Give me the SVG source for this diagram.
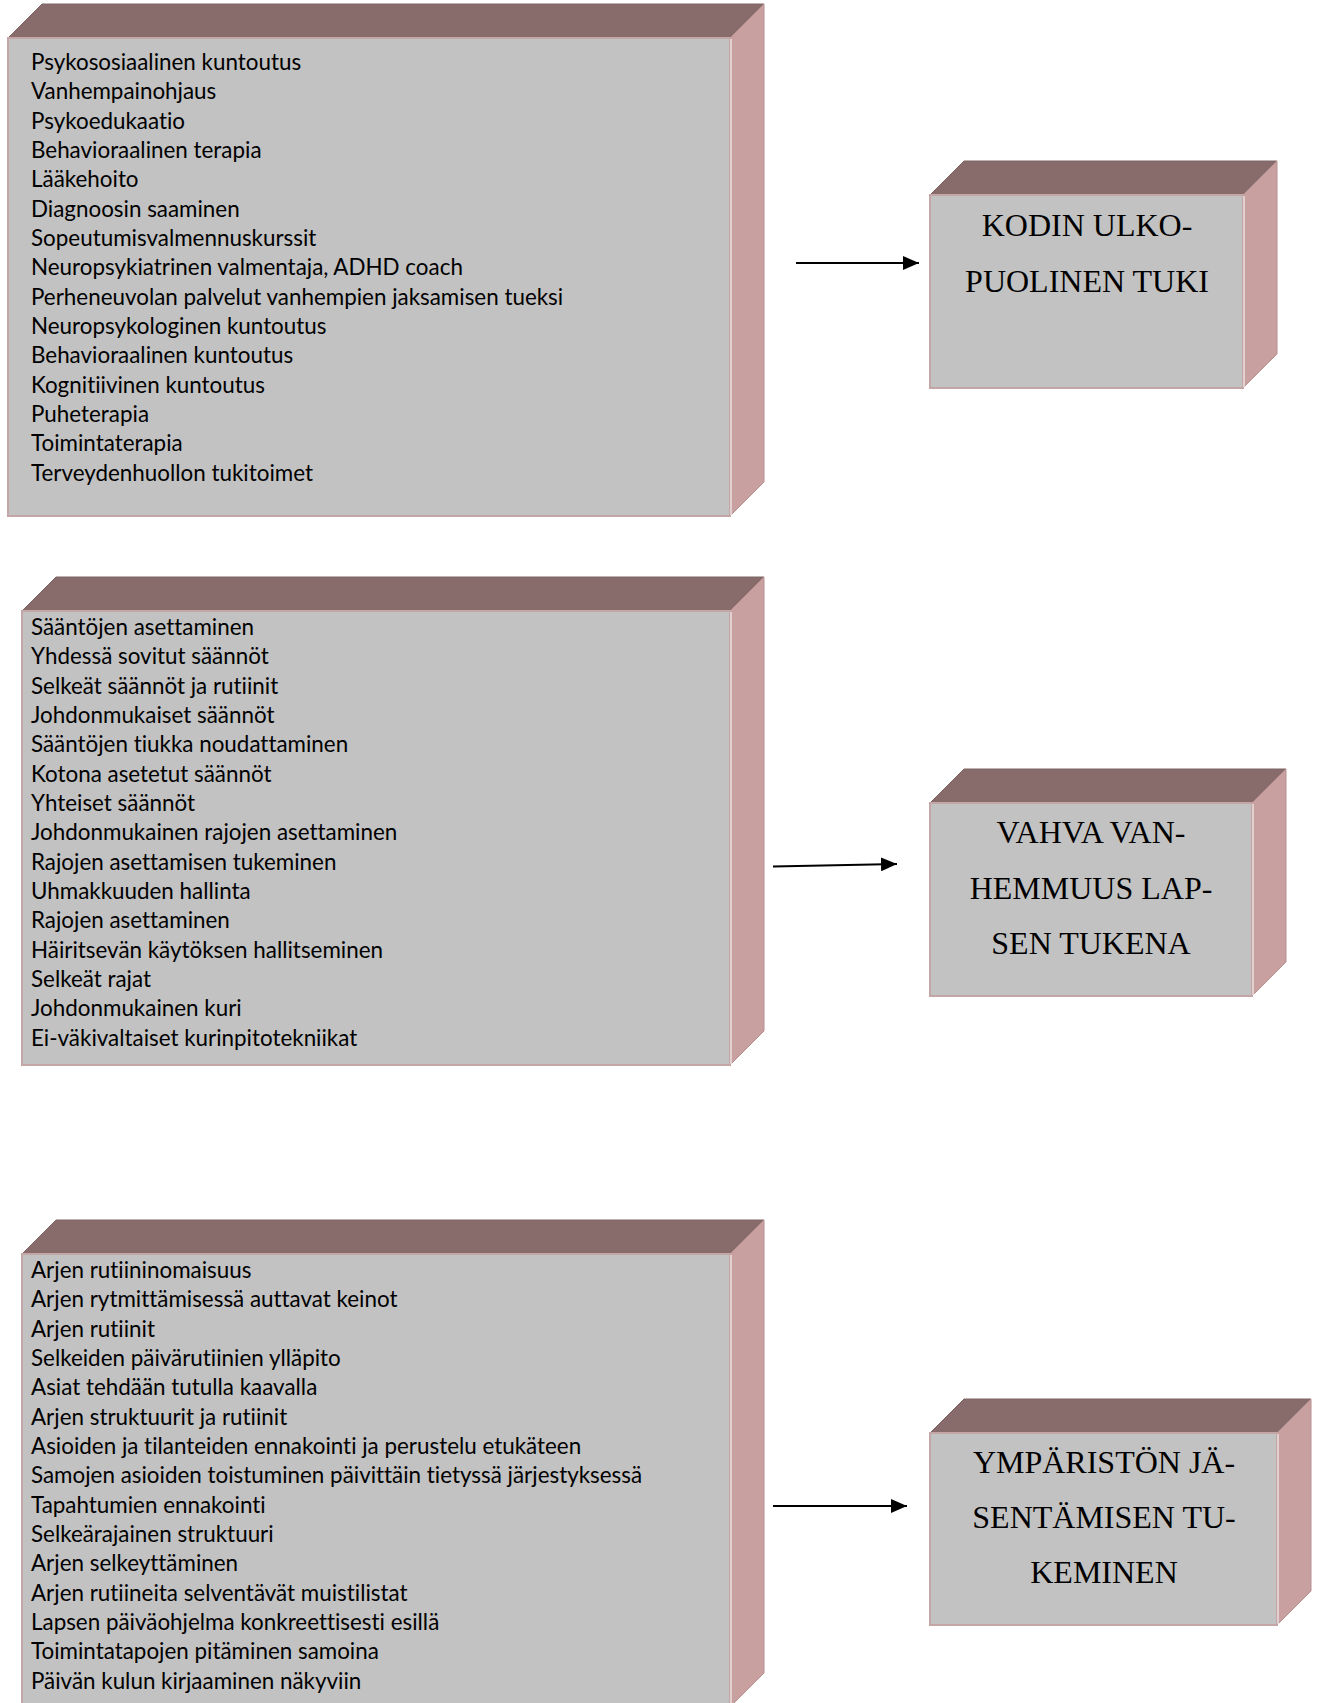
<svg xmlns="http://www.w3.org/2000/svg" width="1323" height="1703" viewBox="0 0 1323 1703">
<defs>
<style>
.top{fill:#886C6C;stroke:#7E6464;stroke-width:1}
.side{fill:#C8A0A0;stroke:#B89090;stroke-width:1}
.front{fill:#C2C2C2;stroke:#C4A6A6;stroke-width:2}
.hl{stroke:#E2CFCF;stroke-width:2;fill:none}
.list{font-family:Lato,"Liberation Sans",sans-serif;font-size:22.4px;fill:#000;font-variant-ligatures:none}
.title{font-family:"Liberation Serif","Times New Roman",serif;font-size:32px;fill:#000;text-anchor:middle}
.conn{stroke:#000;stroke-width:2;fill:none}
</style>
<marker id="ah" viewBox="0 0 16 14" refX="16" refY="7" markerWidth="16" markerHeight="14" markerUnits="userSpaceOnUse" orient="auto">
<path d="M0,0 L16,7 L0,14 z" fill="#000"/>
</marker>
</defs>
<rect x="0" y="0" width="1323" height="1703" fill="#fff"/>

<g id="box-terveydenhuolto">
<polygon class="top" points="8,38 42,4 764,4 730,38"/>
<polygon class="side" points="730,38 764,4 764,482 730,516"/>
<rect class="front" x="8" y="38" width="722" height="478"/>
<line class="hl" x1="731" y1="39" x2="731" y2="515"/>
<text class="list">
<tspan x="31" y="70">Psykososiaalinen kuntoutus</tspan>
<tspan x="31" y="99.3">Vanhempainohjaus</tspan>
<tspan x="31" y="128.7">Psykoedukaatio</tspan>
<tspan x="31" y="158">Behavioraalinen terapia</tspan>
<tspan x="31" y="187.3">Lääkehoito</tspan>
<tspan x="31" y="216.7">Diagnoosin saaminen</tspan>
<tspan x="31" y="246">Sopeutumisvalmennuskurssit</tspan>
<tspan x="31" y="275.3">Neuropsykiatrinen valmentaja, ADHD coach</tspan>
<tspan x="31" y="304.6">Perheneuvolan palvelut vanhempien jaksamisen tueksi</tspan>
<tspan x="31" y="334">Neuropsykologinen kuntoutus</tspan>
<tspan x="31" y="363.3">Behavioraalinen kuntoutus</tspan>
<tspan x="31" y="392.6">Kognitiivinen kuntoutus</tspan>
<tspan x="31" y="422">Puheterapia</tspan>
<tspan x="31" y="451.3">Toimintaterapia</tspan>
<tspan x="31" y="480.6">Terveydenhuollon tukitoimet</tspan>
</text>
</g>

<g id="box-saannot">
<polygon class="top" points="22,611 56,577 764,577 730,611"/>
<polygon class="side" points="730,611 764,577 764,1031 730,1065"/>
<rect class="front" x="22" y="611" width="708" height="454"/>
<line class="hl" x1="731" y1="612" x2="731" y2="1064"/>
<text class="list">
<tspan x="31" y="635">Sääntöjen asettaminen</tspan>
<tspan x="31" y="664.3">Yhdessä sovitut säännöt</tspan>
<tspan x="31" y="693.7">Selkeät säännöt ja rutiinit</tspan>
<tspan x="31" y="723">Johdonmukaiset säännöt</tspan>
<tspan x="31" y="752.3">Sääntöjen tiukka noudattaminen</tspan>
<tspan x="31" y="781.7">Kotona asetetut säännöt</tspan>
<tspan x="31" y="811">Yhteiset säännöt</tspan>
<tspan x="31" y="840.3">Johdonmukainen rajojen asettaminen</tspan>
<tspan x="31" y="869.6">Rajojen asettamisen tukeminen</tspan>
<tspan x="31" y="899">Uhmakkuuden hallinta</tspan>
<tspan x="31" y="928.3">Rajojen asettaminen</tspan>
<tspan x="31" y="957.6">Häiritsevän käytöksen hallitseminen</tspan>
<tspan x="31" y="987">Selkeät rajat</tspan>
<tspan x="31" y="1016.3">Johdonmukainen kuri</tspan>
<tspan x="31" y="1045.6">Ei-väkivaltaiset kurinpitotekniikat</tspan>
</text>
</g>

<g id="box-arki">
<polygon class="top" points="22,1254 56,1220 764,1220 730,1254"/>
<polygon class="side" points="730,1254 764,1220 764,1673 730,1707"/>
<rect class="front" x="22" y="1254" width="708" height="453"/>
<line class="hl" x1="731" y1="1255" x2="731" y2="1706"/>
<text class="list">
<tspan x="31" y="1277.8">Arjen rutiininomaisuus</tspan>
<tspan x="31" y="1307.1">Arjen rytmittämisessä auttavat keinot</tspan>
<tspan x="31" y="1336.5">Arjen rutiinit</tspan>
<tspan x="31" y="1365.8">Selkeiden päivärutiinien ylläpito</tspan>
<tspan x="31" y="1395.1">Asiat tehdään tutulla kaavalla</tspan>
<tspan x="31" y="1424.5">Arjen struktuurit ja rutiinit</tspan>
<tspan x="31" y="1453.8">Asioiden ja tilanteiden ennakointi ja perustelu etukäteen</tspan>
<tspan x="31" y="1483.1">Samojen asioiden toistuminen päivittäin tietyssä järjestyksessä</tspan>
<tspan x="31" y="1512.5">Tapahtumien ennakointi</tspan>
<tspan x="31" y="1541.8">Selkeärajainen struktuuri</tspan>
<tspan x="31" y="1571.1">Arjen selkeyttäminen</tspan>
<tspan x="31" y="1600.5">Arjen rutiineita selventävät muistilistat</tspan>
<tspan x="31" y="1629.8">Lapsen päiväohjelma konkreettisesti esillä</tspan>
<tspan x="31" y="1659.1">Toimintatapojen pitäminen samoina</tspan>
<tspan x="31" y="1688.5">Päivän kulun kirjaaminen näkyviin</tspan>
</text>
</g>

<g id="node-kodin-ulkopuolinen-tuki">
<polygon class="top" points="930,195 964,161 1277,161 1243,195"/>
<polygon class="side" points="1243,195 1277,161 1277,354 1243,388"/>
<rect class="front" x="930" y="195" width="313" height="193"/>
<line class="hl" x1="1244" y1="196" x2="1244" y2="387"/>
<text class="title" x="1087" y="236">KODIN ULKO-</text>
<text class="title" x="1087" y="291.5">PUOLINEN TUKI</text>
</g>

<g id="node-vahva-vanhemmuus">
<polygon class="top" points="930,803 964,769 1286,769 1252,803"/>
<polygon class="side" points="1252,803 1286,769 1286,962 1252,996"/>
<rect class="front" x="930" y="803" width="322" height="193"/>
<line class="hl" x1="1253" y1="804" x2="1253" y2="995"/>
<text class="title" x="1091" y="843">VAHVA VAN-</text>
<text class="title" x="1091" y="898.5">HEMMUUS LAP-</text>
<text class="title" x="1091" y="954">SEN TUKENA</text>
</g>

<g id="node-ympariston-jasentaminen">
<polygon class="top" points="930,1433 964,1399 1311,1399 1277,1433"/>
<polygon class="side" points="1277,1433 1311,1399 1311,1591 1277,1625"/>
<rect class="front" x="930" y="1433" width="347" height="192"/>
<line class="hl" x1="1278" y1="1434" x2="1278" y2="1624"/>
<text class="title" x="1104" y="1473">YMPÄRISTÖN JÄ-</text>
<text class="title" x="1104" y="1528">SENTÄMISEN TU-</text>
<text class="title" x="1104" y="1583">KEMINEN</text>
</g>

<g id="connectors">
<line class="conn" x1="796" y1="263" x2="919" y2="263" marker-end="url(#ah)"/>
<line class="conn" x1="773" y1="866.5" x2="897" y2="864" marker-end="url(#ah)"/>
<line class="conn" x1="773" y1="1506" x2="907" y2="1506" marker-end="url(#ah)"/>
</g>
</svg>
